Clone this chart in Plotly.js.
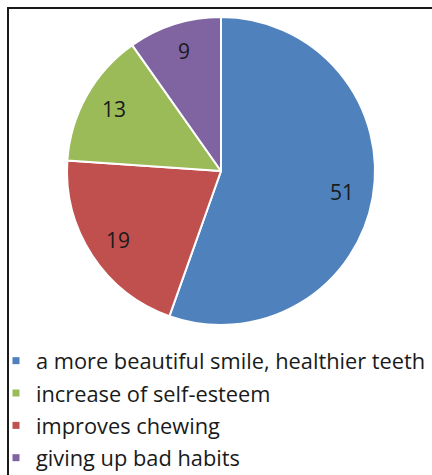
<!DOCTYPE html>
<html>
<head>
<meta charset="utf-8">
<script src="https://cdn.plot.ly/plotly-3.0.1.min.js"></script>
<style>
html,body{margin:0;padding:0;background:#fff;}
#wrap{position:relative;width:432px;height:475px;overflow:hidden;}
#chart{position:absolute;left:0;top:0;width:432px;height:475px;}
#frame{position:absolute;left:7px;top:7px;width:500px;height:500px;border-left:2px solid #1a1a1a;border-top:2px solid #1a1a1a;pointer-events:none;}
</style>
</head>
<body>
<div id="wrap"><div id="chart"></div><div id="frame"></div></div>
<script>
// slice order (clockwise from 12 o'clock)
const sliceLabels = ["a more beautiful smile, healthier teeth", "improves chewing", "increase of self-esteem", "giving up bad habits"];
const sliceValues = [51, 19, 13, 9];
const sliceColors = ["#4F81BD", "#C0504D", "#9BBB59", "#8064A2"];
// legend order as in the reference
const legendLabels = ["a more beautiful smile, healthier teeth", "increase of self-esteem", "improves chewing", "giving up bad habits"];
const legendColors = ["#4F81BD", "#9BBB59", "#C0504D", "#8064A2"];

const W = 432, H = 475;
const traces = [{
  type: "pie",
  labels: sliceLabels,
  values: sliceValues,
  sort: false,
  direction: "clockwise",
  rotation: 0,
  marker: {colors: sliceColors, line: {color: "#ffffff", width: 2}},
  textinfo: "none",
  domain: {x: [(221 - 154) / W, (221 + 154) / W], y: [1 - (171 + 154) / H, 1 - (171 - 154) / H]},
  showlegend: false,
  hoverinfo: "label+value"
}];
legendLabels.forEach((lab, i) => {
  traces.push({
    type: "scatter", mode: "markers", x: [null], y: [null], name: lab,
    legendgroup: "g" + i,
    marker: {symbol: "square", size: 7, color: legendColors[i]},
    showlegend: true, hoverinfo: "skip"
  });
});

const layout = {
  width: W, height: H,
  margin: {l: 0, r: 0, t: 0, b: 0, autoexpand: false},
  paper_bgcolor: "#ffffff", plot_bgcolor: "#ffffff",
  xaxis: {visible: false}, yaxis: {visible: false},
  showlegend: true,
  legend: {
    x: -4 / W, xanchor: "left", y: 1 - 340 / H, yanchor: "top",
    traceorder: "grouped", tracegroupgap: 1,
    font: {family: "Open Sans, sans-serif", size: 21.8, color: "#1a1a1a"},
    bgcolor: "rgba(0,0,0,0)", itemwidth: 30
  }
};
const gd = document.getElementById("chart");
Plotly.newPlot(gd, traces, layout, {displayModeBar: false, staticPlot: true}).then(() => {
  // value labels placed along each slice's mid-angle, from the pie's domain as laid out by Plotly
  const gs = gd._fullLayout._size;
  const dom = gd._fullData[0].domain;
  const wpx = (dom.x[1] - dom.x[0]) * gs.w, hpx = (dom.y[1] - dom.y[0]) * gs.h;
  const r = Math.min(wpx, hpx) / 2;
  const cx = gs.l + (dom.x[0] + dom.x[1]) / 2 * gs.w;
  const cy = gs.t + (1 - (dom.y[0] + dom.y[1]) / 2) * gs.h;
  const total = sliceValues.reduce((a, b) => a + b, 0);
  let cum = 0;
  const anns = sliceValues.map((v) => {
    const mid = (cum + v / 2) / total * 2 * Math.PI;
    cum += v;
    const px = cx + 0.8 * r * Math.sin(mid);
    const py = cy - 0.82 * r * Math.cos(mid);
    return {
      xref: "paper", yref: "paper", xanchor: "center", yanchor: "middle",
      x: (px - gs.l) / gs.w, y: 1 - (py - gs.t) / gs.h,
      text: String(v), showarrow: false,
      font: {family: "Open Sans, sans-serif", size: 21, color: "#1a1a1a"}
    };
  });
  return Plotly.relayout(gd, {annotations: anns});
});
</script>
</body>
</html>
